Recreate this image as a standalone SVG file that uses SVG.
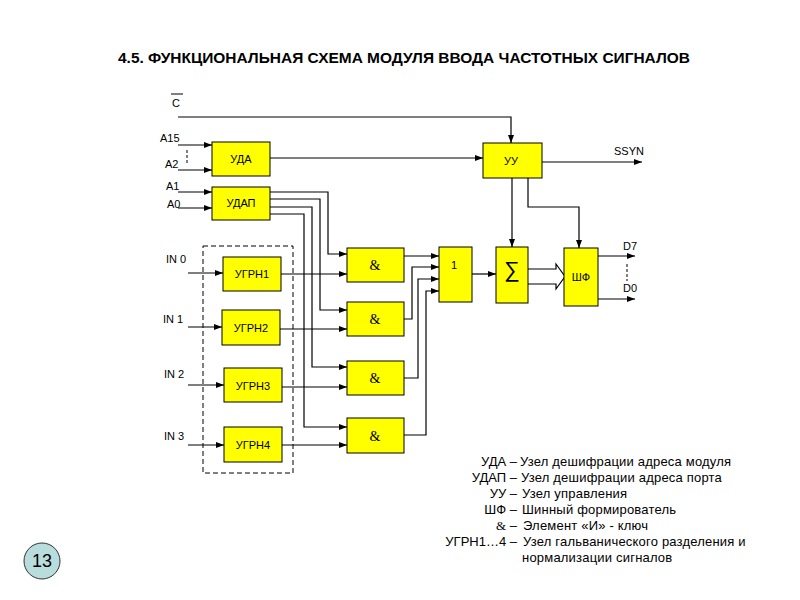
<svg xmlns="http://www.w3.org/2000/svg" width="800" height="600" viewBox="0 0 800 600">
<style>
.box{fill:#ffff00;stroke:#000;stroke-width:1}
.ln{fill:none;stroke:#000;stroke-width:1.2}
.arr{marker-end:url(#ah)}
text{font-family:"Liberation Sans",Arial,sans-serif;fill:#000}
.lbl{font-size:11px;text-anchor:middle;dominant-baseline:central}
.pin{font-size:11px}
.amp{font-family:"Liberation Serif","Times New Roman",serif;font-size:14px;text-anchor:middle;dominant-baseline:central}
.leg{font-size:13px}
</style>
<defs>
<marker id="ah" markerWidth="8" markerHeight="6" refX="8" refY="3" orient="auto" markerUnits="userSpaceOnUse">
<path d="M0,0 L8,3 L0,6 Z" fill="#000"/>
</marker>
</defs>
<rect width="800" height="600" fill="#fff"/>
<text x="118" y="63" font-size="15" font-weight="bold" textLength="572" lengthAdjust="spacingAndGlyphs">4.5. ФУНКЦИОНАЛЬНАЯ СХЕМА МОДУЛЯ ВВОДА ЧАСТОТНЫХ СИГНАЛОВ</text>

<g id="inputs-labels">
<text class="pin" x="176" y="107" text-anchor="middle">C</text>
<line x1="171" y1="94" x2="183" y2="94" stroke="#000" stroke-width="1"/>
<text class="pin" x="160" y="142">A15</text>
<text class="pin" x="165" y="168">A2</text>
<text class="pin" x="166" y="190">A1</text>
<text class="pin" x="167" y="208">A0</text>
<text class="pin" x="166" y="263">IN 0</text>
<text class="pin" x="163" y="323">IN 1</text>
<text class="pin" x="164" y="378">IN 2</text>
<text class="pin" x="164" y="440">IN 3</text>
<text class="pin" x="614" y="155">SSYN</text>
<text class="pin" x="623" y="250">D7</text>
<text class="pin" x="623" y="292">D0</text>
</g>

<rect id="ugrn-group" x="203" y="246" width="90" height="227" fill="none" stroke="#000" stroke-width="1" stroke-dasharray="5,3"/>

<g id="connectors">
<path class="ln arr" d="M178,117 H511 V143"/>
<path class="ln arr" d="M178,145 H212"/>
<path class="ln arr" d="M178,170 H212"/>
<line x1="187" y1="150" x2="187" y2="164" stroke="#000" stroke-width="1" stroke-dasharray="3,2"/>
<path class="ln arr" d="M178,192 H212"/>
<path class="ln arr" d="M178,208 H212"/>
<path class="ln arr" d="M270,158 H483"/>
<path class="ln arr" d="M542,162 H642"/>
<path class="ln arr" d="M512,178 V247"/>
<path class="ln arr" d="M528,178 V207 H579 V248"/>
<path class="ln arr" d="M270,192 H328 V254 H347"/>
<path class="ln arr" d="M270,199 H320 V310 H347"/>
<path class="ln arr" d="M270,207 H312 V367 H347"/>
<path class="ln arr" d="M270,214 H304 V427 H347"/>
<path class="ln arr" d="M188,273 H223"/>
<path class="ln arr" d="M188,327 H222"/>
<path class="ln arr" d="M188,385 H224"/>
<path class="ln arr" d="M188,445 H224"/>
<path class="ln arr" d="M281,274 H347"/>
<path class="ln arr" d="M280,329 H347"/>
<path class="ln arr" d="M282,387 H347"/>
<path class="ln arr" d="M282,445 H347"/>
<path class="ln arr" d="M404,256 H439"/>
<path class="ln arr" d="M404,319 H412 V267 H439"/>
<path class="ln arr" d="M404,378 H418 V279 H439"/>
<path class="ln arr" d="M404,435 H426 V291 H439"/>
<path class="ln arr" d="M472,274 H496"/>
<path class="ln" d="M528,269 H556 V264 L565,276.5 L556,289 V284 H528"/>
<path class="ln arr" d="M598,256 H635"/>
<path class="ln arr" d="M598,299 H635"/>
<line x1="627" y1="264" x2="627" y2="281" stroke="#000" stroke-width="1" stroke-dasharray="3,2"/>
</g>

<g id="uda"><rect class="box" x="212" y="142" width="58" height="34"/><text class="lbl" x="241" y="159">УДА</text></g>
<g id="udap"><rect class="box" x="212" y="187" width="58" height="33"/><text class="lbl" x="241" y="203">УДАП</text></g>
<g id="uu"><rect class="box" x="483" y="143" width="59" height="35"/><text class="lbl" x="511" y="161">УУ</text></g>
<g id="or1"><rect class="box" x="439" y="247" width="33" height="55"/><text class="lbl" x="454" y="265" font-size="12">1</text></g>
<g id="sum"><rect class="box" x="496" y="247" width="32" height="56"/><text x="512" y="269" font-size="22" text-anchor="middle" dominant-baseline="central" font-family="DejaVu Sans, sans-serif">∑</text></g>
<g id="shf"><rect class="box" x="564" y="248" width="34" height="58"/><text class="lbl" x="581" y="277">ШФ</text></g>
<g id="ugrn1"><rect class="box" x="223" y="257" width="58" height="34"/><text class="lbl" x="252" y="274">УГРН1</text></g>
<g id="ugrn2"><rect class="box" x="222" y="310" width="58" height="35"/><text class="lbl" x="251" y="328">УГРН2</text></g>
<g id="ugrn3"><rect class="box" x="224" y="368" width="58" height="34"/><text class="lbl" x="253" y="386">УГРН3</text></g>
<g id="ugrn4"><rect class="box" x="224" y="427" width="58" height="35"/><text class="lbl" x="253" y="445">УГРН4</text></g>
<g id="and1"><rect class="box" x="347" y="248" width="57" height="34"/><text class="amp" x="375" y="265">&amp;</text></g>
<g id="and2"><rect class="box" x="347" y="302" width="57" height="34"/><text class="amp" x="375" y="319">&amp;</text></g>
<g id="and3"><rect class="box" x="347" y="361" width="57" height="34"/><text class="amp" x="375" y="378">&amp;</text></g>
<g id="and4"><rect class="box" x="347" y="418" width="57" height="35"/><text class="amp" x="375" y="436">&amp;</text></g>

<g id="legend" class="leg">
<text x="517" y="466" text-anchor="end">УДА –</text><text x="520" y="466" letter-spacing="0.2">Узел  дешифрации адреса модуля</text>
<text x="517" y="482" text-anchor="end">УДАП –</text><text x="521" y="482" letter-spacing="0.2">Узел дешифрации адреса порта</text>
<text x="517" y="498" text-anchor="end">УУ –</text><text x="522" y="498" letter-spacing="0.2">Узел управления</text>
<text x="517" y="514" text-anchor="end">ШФ –</text><text x="522" y="514" letter-spacing="0.2">Шинный формирователь</text>
<text x="517" y="530" text-anchor="end"><tspan font-family="Liberation Serif, serif">&amp;</tspan> –</text><text x="523" y="530" letter-spacing="0.2">Элемент «И» - ключ</text>
<text x="517" y="546" text-anchor="end">УГРН1…4 –</text><text x="523" y="546" letter-spacing="0.2">Узел гальванического разделения и</text>
<text x="522" y="562" letter-spacing="0.2">нормализации сигналов</text>
</g>

<g id="page-number">
<circle cx="42" cy="561" r="18" fill="#b9dcdc" stroke="#333" stroke-width="1"/>
<text x="42" y="561" font-size="18" text-anchor="middle" dominant-baseline="central">13</text>
</g>
</svg>
